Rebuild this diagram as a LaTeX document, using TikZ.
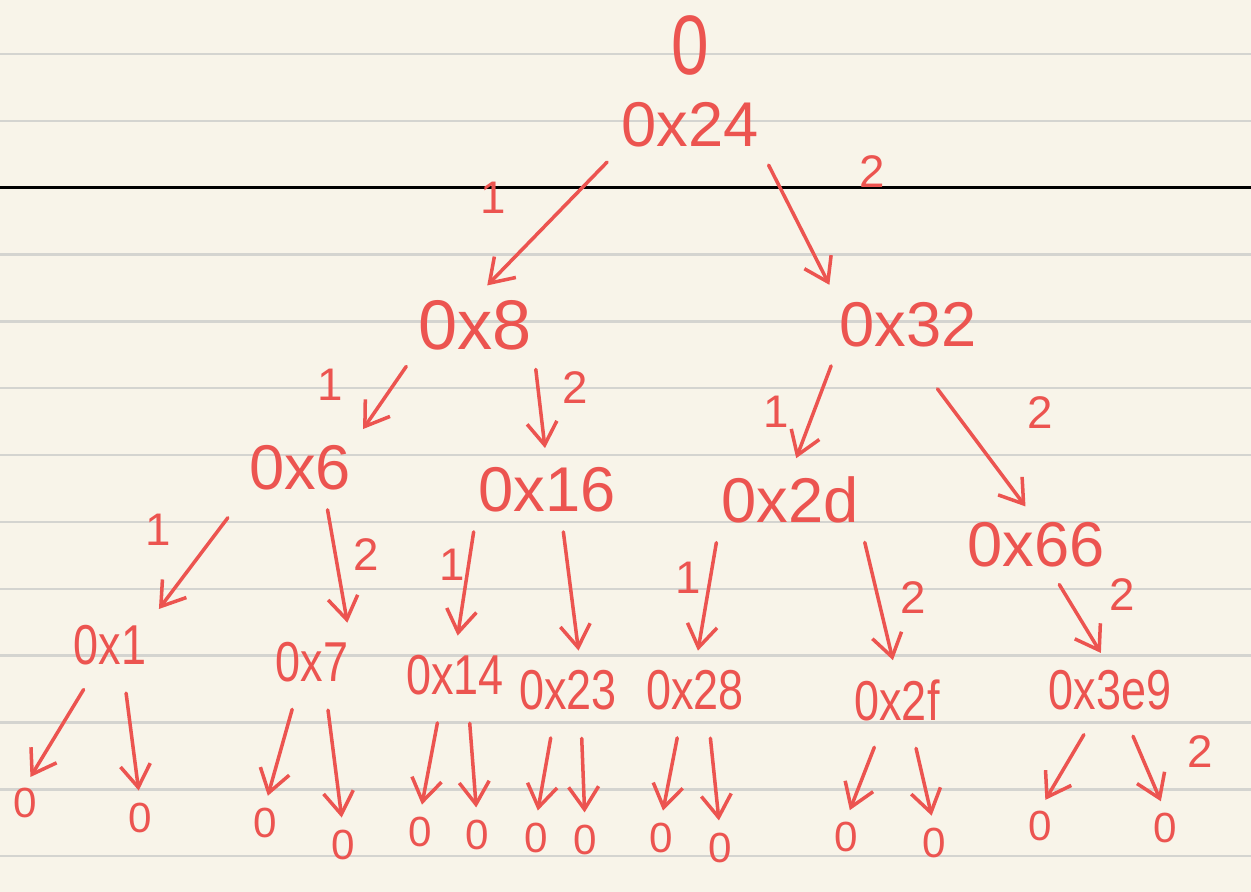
\documentclass[tikz,border=0pt]{standalone}
\usepackage{fontspec}
\setmainfont{Liberation Sans}
\newfontfamily\narrowfont{Liberation Sans}[FakeStretch=0.8]
\usetikzlibrary{arrows.meta}
\definecolor{ink}{RGB}{236,84,80}
\definecolor{paper}{RGB}{248,244,233}
\definecolor{rulegray}{RGB}{212,212,208}

\begin{document}
\begin{tikzpicture}[
    x=0.02cm, y=-0.02cm,
    key/.style={text=ink, inner sep=1pt, font=\fontsize{36}{36}\selectfont},
    small/.style={key, font=\narrowfont\fontsize{32}{32}\selectfont},
    leaf/.style={key, font=\fontsize{24}{24}\selectfont},
    wt/.style={text=ink, inner sep=0pt, font=\fontsize{26}{26}\selectfont},
    arrow/.style={-{Straight Barb[length=4.5mm,width=6mm]}, ink, line width=2pt,
                  line cap=round, shorten >=10pt, shorten <=10pt},
    ruling/.style={rulegray, line width=1.4pt}
]
% paper
\fill[paper] (0,0) rectangle (1251,892);
\useasboundingbox (0,0) rectangle (1251,892);
\foreach \i in {0,...,12}
    \draw[ruling] (0,{54+66.85*\i}) -- (1251,{54+66.85*\i});
\draw[black, line width=1.7pt] (0,187.7) -- (1251,187.7);

% keys
\node[key, font=\narrowfont\fontsize{48}{48}\selectfont] (root) at (690,45) {0};
\node[key] (n24) at (690,125) {0x24};
\node[key, font=\fontsize{40}{40}\selectfont] (n8) at (475,325) {0x8};
\node[key] (n32) at (908,325) {0x32};
\node[key] (n6) at (300,468) {0x6};
\node[key] (n16) at (547,490) {0x16};
\node[key] (n2d) at (790,500) {0x2d};
\node[key] (n66) at (1036,545) {0x66};
\node[small] (n1) at (110,645) {0x1};
\node[small] (n7) at (312,662) {0x7};
\node[small] (n14) at (455,675) {0x14};
\node[small] (n23) at (568,690) {0x23};
\node[small] (n28) at (695,690) {0x28};
\node[small] (n2f) at (897,700) {0x2f};
\node[small] (n3e9) at (1110,690) {0x3e9};

% links
\draw[arrow] (n24.south west) -- (n8.north);
\draw[arrow] (n24.south east) -- (n32.north west);
\draw[arrow] (n8.south west) -- (n6.north east);
\draw[arrow] (n8.south east) -- (n16.north);
\draw[arrow] (n32.south west) -- (n2d.north);
\draw[arrow, shorten <=28pt] (n32.south) -- (n66.north);
\draw[arrow, shorten <=18pt] (n6.south west) -- (n1.north east);
\draw[arrow] (n6.-45) -- (n7.north east);
\draw[arrow] (n16.south west) -- (n14.north);
\draw[arrow] (n16.-60) -- (n23.60);
\draw[arrow] (n2d.south west) -- (n28.north);
\draw[arrow] (n2d.south east) -- (n2f.north);
\draw[arrow] (n66.-60) -- (n3e9.north);

% weights
\node[wt] (w1) at (493,198) {1};
\node[wt] (w2) at (872,172) {2};
\node[wt] (w3) at (330,385) {1};
\node[wt] (w4) at (575,388) {2};
\node[wt] (w5) at (776,412) {1};
\node[wt] (w6) at (1040,413) {2};
\node[wt] (w7) at (158,530) {1};
\node[wt] (w8) at (366,555) {2};
\node[wt] (w9) at (452,565) {1};
\node[wt] (w10) at (688,578) {1};
\node[wt] (w11) at (913,598) {2};
\node[wt] (w12) at (1122,595) {2};
\node[wt] (w13) at (1200,752) {2};

% empty leaves
\foreach \p/\xa/\ya/\xb/\yb in {1/25/803/140/818, 7/265/823/343/845,
        14/420/832/477/835, 23/536/838/585/840, 28/661/838/720/848,
        2f/846/837/934/843, 3e9/1040/826/1165/828} {
    \node[leaf] (l\p-a) at (\xa,\ya) {0};
    \node[leaf] (l\p-b) at (\xb,\yb) {0};
    \draw[arrow, shorten <=15pt, shorten >=6pt] (n\p.-120) -- (l\p-a.north);
    \draw[arrow, shorten <=15pt, shorten >=6pt] (n\p.-60) -- (l\p-b.north);
}
\end{tikzpicture}
\end{document}
